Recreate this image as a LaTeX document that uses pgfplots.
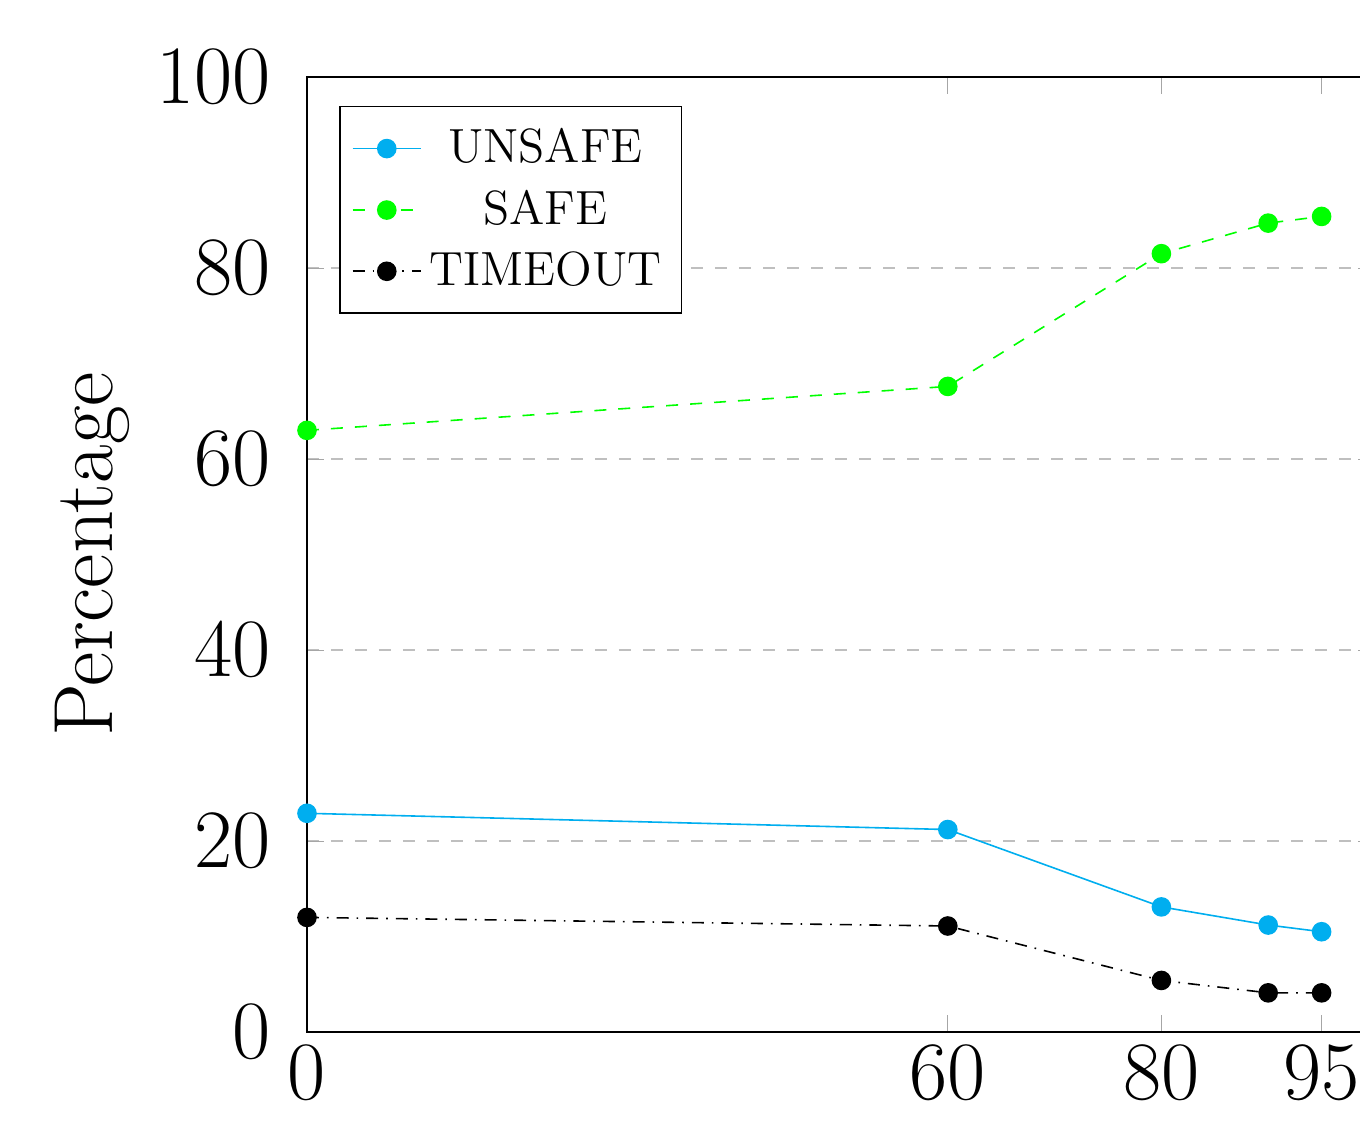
\documentclass[border=0pt]{standalone}
\usepackage{pgfplots}
\pgfplotsset{compat=1.18}
\definecolor{ublue}{RGB}{0,174,239}
\definecolor{sgreen}{RGB}{0,255,0}
\begin{document}
\begin{tikzpicture}
\begin{axis}[
  at={(0,0)}, anchor=south west,
  scale only axis,
  width=267pt, height=238.75pt,
  xmin=0, xmax=100, ymin=0, ymax=100,
  xtick={0,60,80,95},
  ytick={0,20,40,60,80,100},
  ymajorgrids,
  grid style={dashed, gray!50},
  major tick style={gray!70},
  tick label style={font=\fontsize{20}{24}\selectfont},
  yticklabel style={xshift=-5.5pt},
  ylabel={Percentage},
  ylabel style={font=\fontsize{21}{25}\selectfont},
  legend pos=north west,
  legend cell align=center,
  legend style={font=\fontsize{12}{14}\selectfont, row sep=1.3pt, inner ysep=3.5pt},
  every axis plot/.append style={mark size=2.25pt},
]
\addplot[color=ublue, mark=*, mark options={solid, fill=ublue}] coordinates {
  (0,22.9) (60,21.2) (80,13.1) (90,11.2) (95,10.5)
};
\addlegendentry{UNSAFE}
\addplot[color=sgreen, dashed, mark=*, mark options={solid, fill=sgreen}] coordinates {
  (0,63.0) (60,67.6) (80,81.5) (90,84.7) (95,85.4)
};
\addlegendentry{SAFE}
\addplot[color=black, dashdotted, mark=*, mark options={solid, fill=black}] coordinates {
  (0,12.0) (60,11.1) (80,5.4) (90,4.1) (95,4.1)
};
\addlegendentry{TIMEOUT}
\end{axis}
\pgfresetboundingbox
\useasboundingbox (-76.75pt,-23.25pt) rectangle (263.25pt,258pt);
\end{tikzpicture}
\end{document}
